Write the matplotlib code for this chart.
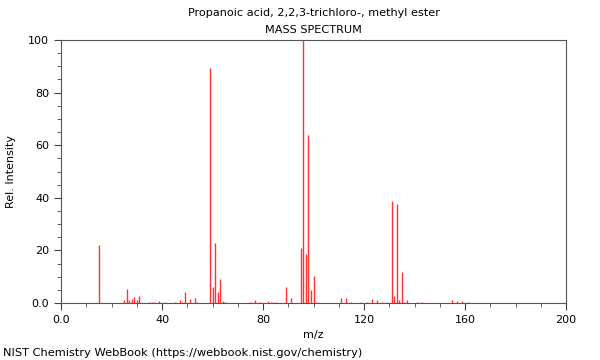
import matplotlib.pyplot as plt
from matplotlib.ticker import MultipleLocator, FuncFormatter

# peaks
mz = [15, 25, 26, 27, 28, 29, 30, 31, 35, 36, 37, 39, 41, 45, 47, 48, 49, 51, 53, 54,
      59, 60, 61, 62, 63, 64, 65, 75, 77, 79, 82, 83, 84, 85, 89, 91,
      95, 96, 97, 98, 99, 100, 101, 111, 113, 115, 119, 121, 123, 125, 127, 129,
      131, 132, 133, 134, 135, 136, 137, 141, 143, 155, 157, 159, 161]
intensity = [22.2, 1.3, 5.3, 1.0, 1.5, 2.4, 1.0, 2.6, 0.5, 0.5, 0.5, 0.6, 0.5, 0.5, 1.0, 0.5, 4.2, 1.4, 1.9, 0.3,
             89.5, 6.0, 23.0, 4.0, 9.0, 0.9, 0.5, 0.4, 1.0, 0.5, 0.7, 0.5, 0.5, 0.5, 6.0, 1.9,
             21.0, 100.0, 18.5, 64.0, 5.0, 10.1, 0.5, 2.0, 2.0, 0.5, 0.3, 0.5, 1.5, 1.1, 0.3, 0.5,
             38.9, 2.5, 37.6, 1.3, 11.8, 0.3, 1.1, 0.5, 0.5, 1.3, 0.8, 0.6, 0.3]

fig = plt.figure(figsize=(6, 3.6), dpi=100)
ax = fig.add_axes([61/600, 1 - 303/360, 505/600, 263/360])

ax.vlines(mz, 0, intensity, colors="#ff3333", linewidth=1)

ax.set_xlim(0, 200)
ax.set_ylim(0, 100)
ax.xaxis.set_major_locator(MultipleLocator(40))
ax.xaxis.set_minor_locator(MultipleLocator(10))
ax.yaxis.set_major_locator(MultipleLocator(20))
ax.yaxis.set_minor_locator(MultipleLocator(5))
fmt = FuncFormatter(lambda v, p: "0.0" if v == 0 else "%d" % v)
ax.xaxis.set_major_formatter(fmt)
ax.yaxis.set_major_formatter(fmt)
ax.tick_params(which="major", length=5, labelsize=8, color="#444444")
ax.tick_params(which="minor", length=3, color="#444444")
for s in ax.spines.values():
    s.set_color("#555555")

ax.set_xlabel("m/z", fontsize=8)
ax.set_ylabel("Rel. Intensity", fontsize=8, labelpad=9)
cx = (61 + 566) / 2 / 600
fig.text(cx, 1 - 13/360, "Propanoic acid, 2,2,3-trichloro-, methyl ester",
         ha="center", va="center", fontsize=8.1)
fig.text(cx, 1 - 30/360, "MASS SPECTRUM", ha="center", va="center", fontsize=8.1)
fig.text(3/600, 1 - 353/360, "NIST Chemistry WebBook (https://webbook.nist.gov/chemistry)",
         ha="left", va="center", fontsize=8.2)

fig.savefig("out.png", dpi=100)
